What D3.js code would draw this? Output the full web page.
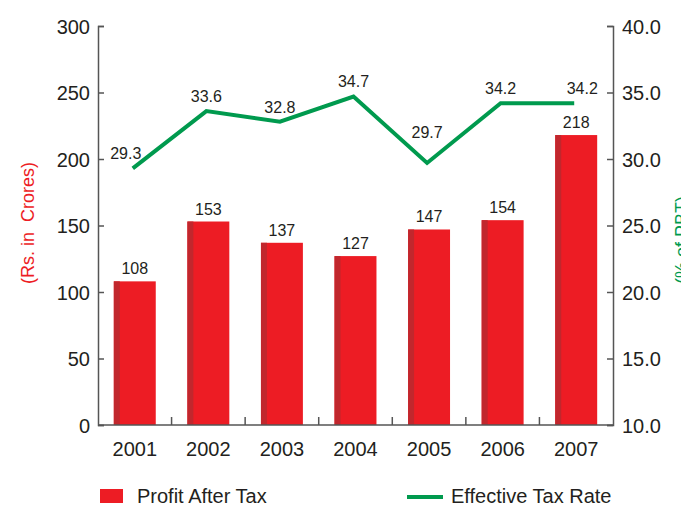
<!DOCTYPE html>
<meta charset="utf-8">
<script src="https://d3js.org/d3.v7.min.js"></script>
<style>
  body { margin: 0; background: #fff; }
  text { font-family: "Liberation Sans", Arial, sans-serif; fill: #231f20; }
</style>
<div id="my_dataviz"></div>
<script>

  // data
  var years = ["2001", "2002", "2003", "2004", "2005", "2006", "2007"];
  var profitAfterTax = [108, 153, 137, 127, 147, 154, 218];
  var taxRate = [29.3, 33.6, 32.8, 34.7, 29.7, 34.2, 34.2];
  var leftTicks = [0, 50, 100, 150, 200, 250, 300];
  var rightTicks = [10, 15, 20, 25, 30, 35, 40];

  var red = "#ed1c24", darkRed = "#c1272d", green = "#009a4e", axisColor = "#555";

  // plot area in page pixels
  var margin = { top: 26, right: 68, bottom: 86, left: 98 },
    width = 681 - margin.left - margin.right,
    height = 511 - margin.top - margin.bottom;

  var svg = d3.select("#my_dataviz")
    .append("svg")
    .attr("width", 681)
    .attr("height", 511);

  var g = svg.append("g")
    .attr("transform", "translate(" + margin.left + "," + margin.top + ")");

  var x = d3.scaleBand().domain(years).range([0, width])
    .paddingInner(0.43).paddingOuter(0.215);
  var yLeft = d3.scaleLinear().domain([0, 300]).range([height, 0]);
  var yRight = d3.scaleLinear().domain([10, 40]).range([height, 0]);

  // bars: main red with darker strip on the left
  var bars = g.selectAll(".bar").data(years).enter().append("g");
  bars.append("rect")
    .attr("x", function (d) { return x(d); })
    .attr("y", function (d, i) { return yLeft(profitAfterTax[i]); })
    .attr("width", x.bandwidth())
    .attr("height", function (d, i) { return height - yLeft(profitAfterTax[i]); })
    .attr("fill", red);
  bars.append("rect")
    .attr("x", function (d) { return x(d); })
    .attr("y", function (d, i) { return yLeft(profitAfterTax[i]); })
    .attr("width", 6)
    .attr("height", function (d, i) { return height - yLeft(profitAfterTax[i]); })
    .attr("fill", darkRed);
  bars.append("text")
    .attr("x", function (d) { return x(d) + x.bandwidth() / 2; })
    .attr("y", function (d, i) { return yLeft(profitAfterTax[i]) - 7; })
    .attr("text-anchor", "middle")
    .style("font-size", "16px")
    .text(function (d, i) { return profitAfterTax[i]; });

  // tax rate line
  var cx = function (d) { return x(d) + x.bandwidth() / 2 - 2; };
  g.append("path")
    .datum(years)
    .attr("fill", "none")
    .attr("stroke", green)
    .attr("stroke-width", 4)
    .attr("stroke-linejoin", "miter")
    .attr("d", d3.line()
      .x(cx)
      .y(function (d, i) { return yRight(taxRate[i]); }));

  // labels sit above the point; lift it more where the line dips
  g.selectAll(".rateLabel").data(years).enter().append("text")
    .attr("x", function (d, i) {
      var shift = i === 0 ? -7 : (i === years.length - 1 ? 8 : 0);
      return cx(d) + shift;
    })
    .attr("y", function (d, i) {
      var prev = taxRate[i - 1], next = taxRate[i + 1];
      var dip = prev !== undefined && next !== undefined && taxRate[i] < prev - 2 && taxRate[i] < next - 2;
      return yRight(taxRate[i]) - (dip ? 25 : 9);
    })
    .attr("text-anchor", "middle")
    .style("font-size", "16px")
    .text(function (d, i) { return taxRate[i].toFixed(1); });

  // left axis, ticks pointing inward
  var leftAxis = g.append("g")
    .call(d3.axisRight(yLeft).tickValues(leftTicks).tickSize(6));
  leftAxis.selectAll("text").attr("text-anchor", "end").attr("x", -8)
    .style("font-size", "20px").attr("dy", "0.35em");

  // right axis, ticks pointing inward
  var rightAxis = g.append("g")
    .attr("transform", "translate(" + width + ",0)")
    .call(d3.axisLeft(yRight).tickValues(rightTicks).tickSize(6).tickFormat(d3.format(".1f")));
  rightAxis.selectAll("text").attr("text-anchor", "start").attr("x", 9)
    .style("font-size", "20px").attr("dy", "0.35em");

  // bottom axis with ticks between categories
  var bottom = g.append("g").attr("transform", "translate(0," + height + ")");
  bottom.append("line").attr("x1", 0).attr("x2", width);
  bottom.selectAll(".sep").data(d3.range(1, years.length)).enter().append("line")
    .attr("x1", function (k) { return k * x.step(); })
    .attr("x2", function (k) { return k * x.step(); })
    .attr("y1", 0).attr("y2", -8);
  bottom.selectAll("text").data(years).enter().append("text")
    .attr("x", function (d) { return x(d) + x.bandwidth() / 2; })
    .attr("y", 31)
    .attr("text-anchor", "middle")
    .style("font-size", "20px")
    .text(function (d) { return d; });

  g.selectAll(".domain, .tick line, line")
    .attr("stroke", axisColor).attr("stroke-width", 1.5);

  // axis titles
  svg.append("text")
    .attr("transform", "translate(34,223) rotate(-90)")
    .attr("text-anchor", "middle")
    .style("font-size", "18px")
    .style("white-space", "pre")
    .style("fill", red)
    .text("(Rs. in  Crores)");
  svg.append("text")
    .attr("transform", "translate(688,240) rotate(-90)")
    .attr("text-anchor", "middle")
    .style("font-size", "18px")
    .style("fill", green)
    .text("(% of PBT)");

  // legend
  var legend = svg.append("g");
  legend.append("rect").attr("x", 100).attr("y", 489).attr("width", 23).attr("height", 14).attr("fill", red);
  legend.append("text").attr("x", 137).attr("y", 503).style("font-size", "20px").text("Profit After Tax");
  legend.append("line").attr("x1", 407).attr("x2", 443).attr("y1", 497).attr("y2", 497)
    .attr("stroke", green).attr("stroke-width", 4);
  legend.append("text").attr("x", 451).attr("y", 503).style("font-size", "20px").text("Effective Tax Rate");

</script>
